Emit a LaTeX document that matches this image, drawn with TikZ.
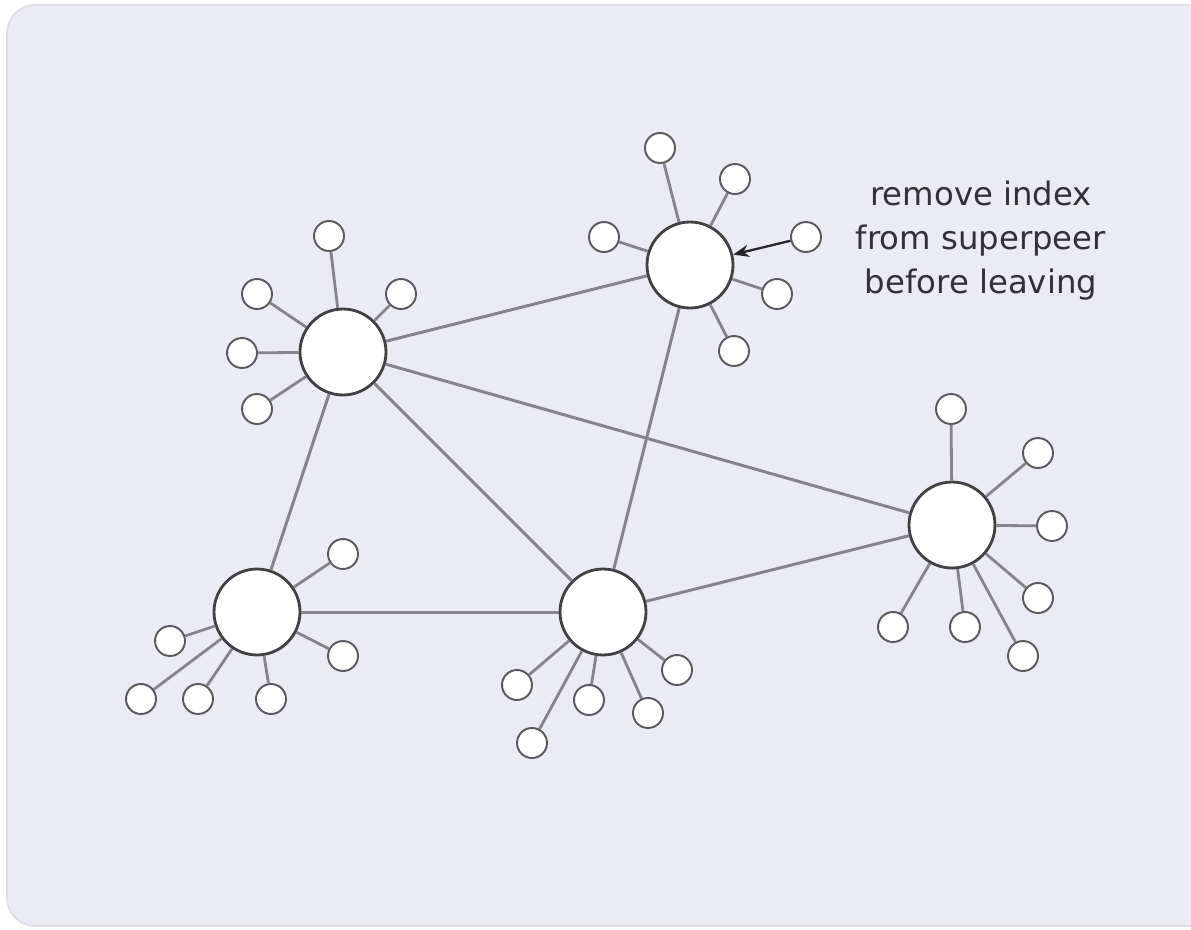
\documentclass[tikz,border=0pt]{standalone}
\usepackage{fontspec}
\setmainfont{DejaVu Sans}
\usetikzlibrary{arrows.meta}
\definecolor{panel}{RGB}{235,235,244}
\definecolor{panelrim}{RGB}{222,222,230}
\definecolor{linkgray}{RGB}{132,132,137}
\definecolor{rimgray}{RGB}{65,65,68}
\definecolor{peerrim}{RGB}{90,90,94}
\definecolor{textgray}{RGB}{50,50,54}
\tikzset{
  super/.style={circle, draw=rimgray, line width=1.6pt, fill=white, minimum size=1.72cm, inner sep=0pt},
  peer/.style={circle, draw=peerrim, line width=1.1pt, fill=white, minimum size=0.6cm, inner sep=0pt},
  link/.style={draw=linkgray, line width=1.7pt},
  leaf/.style={draw=linkgray, line width=1.6pt},
  notice/.style={-{Stealth[length=9pt,width=7pt]}, draw=black!85, line width=1.3pt},
  caption/.style={text=textgray, align=center, font=\fontsize{18.4}{25}\selectfont}
}
\begin{document}
\begin{tikzpicture}[x=0.02cm, y=-0.02cm]
\useasboundingbox (0,0) rectangle (1191,930);
% background panel
\fill[white] (0,0) rectangle (1191,930);
\draw[panelrim, line width=1pt, fill=panel, rounded corners=16] (7,5) rectangle (1215,926);

% superpeers
\node[super] (A) at (343,352) {};
\node[super] (B) at (690,265) {};
\node[super] (C) at (952,525) {};
\node[super] (D) at (257,612) {};
\node[super] (E) at (603,612) {};

% ordinary peers around A
\node[peer] (a1) at (329,236) {};
\node[peer] (a2) at (257,294) {};
\node[peer] (a3) at (401,294) {};
\node[peer] (a4) at (242,353) {};
\node[peer] (a5) at (257,409) {};
% around B
\node[peer] (b1) at (660,148) {};
\node[peer] (b2) at (735,179) {};
\node[peer] (b3) at (604,237) {};
\node[peer] (b4) at (806,237) {};
\node[peer] (b5) at (777,294) {};
\node[peer] (b6) at (734,351) {};
% around C
\node[peer] (c1) at (951,409) {};
\node[peer] (c2) at (1038,453) {};
\node[peer] (c3) at (1052,526) {};
\node[peer] (c4) at (1038,598) {};
\node[peer] (c5) at (1023,656) {};
\node[peer] (c6) at (965,627) {};
\node[peer] (c7) at (893,627) {};
% around D
\node[peer] (d1) at (343,554) {};
\node[peer] (d2) at (343,656) {};
\node[peer] (d3) at (170,641) {};
\node[peer] (d4) at (141,699) {};
\node[peer] (d5) at (198,699) {};
\node[peer] (d6) at (271,699) {};
% around E
\node[peer] (e1) at (517,685) {};
\node[peer] (e2) at (532,743) {};
\node[peer] (e3) at (589,700) {};
\node[peer] (e4) at (648,713) {};
\node[peer] (e5) at (677,670) {};

% superpeer overlay links
\path[link] (A) -- (B);
\path[link] (A) -- (C);
\path[link] (A) -- (D);
\path[link] (A) -- (E);
\path[link] (B) -- (E);
\path[link] (D) -- (E);
\path[link] (E) -- (C);

% peer attachments
\foreach \p in {a1,a2,a3,a4,a5} \path[leaf] (A) -- (\p);
\foreach \p in {b1,b2,b3,b5,b6} \path[leaf] (B) -- (\p);
\foreach \p in {c1,c2,c3,c4,c5,c6,c7} \path[leaf] (C) -- (\p);
\foreach \p in {d1,d2,d3,d4,d5,d6} \path[leaf] (D) -- (\p);
\foreach \p in {e1,e2,e3,e4,e5} \path[leaf] (E) -- (\p);

% departing peer notifies its superpeer
\path[notice] (b4) -- (B);

\node[caption] (note) at (981,241) {remove index\\from superpeer\\before leaving};
\end{tikzpicture}
\end{document}
